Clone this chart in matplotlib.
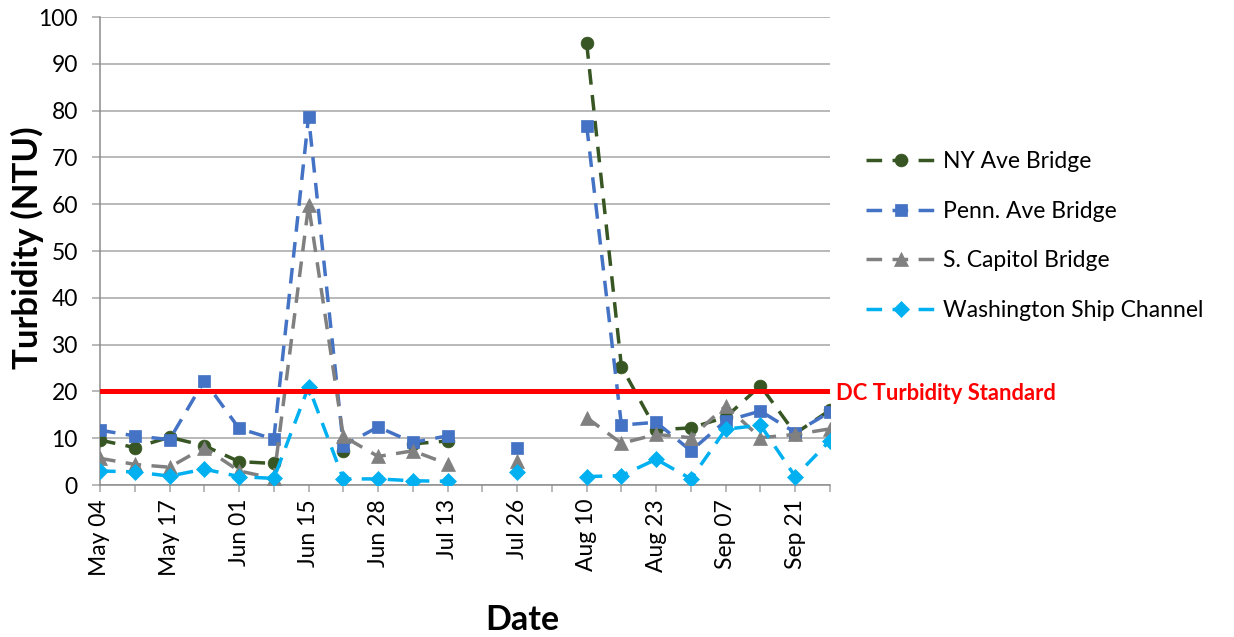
import matplotlib
matplotlib.use('Agg')
import matplotlib.pyplot as plt
import numpy as np

plt.rcParams['font.family'] = ['Lato', 'DejaVu Sans']

dates = ["May 04", "May 10", "May 17", "May 24", "Jun 01", "Jun 08", "Jun 15", "Jun 22",
         "Jun 28", "Jul 06", "Jul 13", "Jul 20", "Jul 26", "Aug 03", "Aug 10", "Aug 17",
         "Aug 23", "Aug 30", "Sep 07", "Sep 14", "Sep 21", "Sep 28"]

ny_ave = [9.6, 8.0, 10.2, 8.4, 5.0, 4.6, None, 7.2, None, 8.8, 9.4, None, None, None,
          94.4, 25.3, 11.8, 12.2, 14.5, 21.2, 11.0, 16.0]
penn_ave = [11.7, 10.5, 9.7, 22.3, 12.1, 9.8, 78.7, 8.4, 12.4, 9.1, 10.5, None, 7.9, None,
            76.8, 12.8, 13.4, 7.3, 13.7, 15.8, 11.2, 15.6]
s_capitol = [5.7, 4.4, 3.8, 8.0, 3.0, 1.4, 59.8, 10.4, 6.1, 7.3, 4.5, None, 5.1, None,
             14.4, 8.9, 10.8, 10.1, 16.9, 10.1, 10.8, 12.0]
ship_channel = [3.0, 2.8, 1.9, 3.4, 1.8, 1.4, 21.0, 1.3, 1.3, 0.9, 0.8, None, 2.8, None,
                1.8, 2.0, 5.5, 1.3, 11.9, 12.8, 1.8, 9.5]

series_names = ["NY Ave Bridge", "Penn. Ave Bridge", "S. Capitol Bridge", "Washington Ship Channel"]
standard = 20

def arr(v):
    return np.array([np.nan if x is None else x for x in v], dtype=float)

fig = plt.figure(figsize=(12.34, 6.37), dpi=100)
ax = fig.add_axes([100/1234, 1-485/637, 730/1234, 468/637])

x = np.arange(len(dates))
styles = [
    ("#375623", "o", 9.2),
    ("#4472C4", "s", 9.2),
    ("#808080", "^", 9.8),
    ("#00B0F0", "D", 8),
]
for vals, name, (c, m, ms) in zip([ny_ave, penn_ave, s_capitol, ship_channel], series_names, styles):
    ax.plot(x, arr(vals), color=c, lw=2.5, ls=(0, (4.5, 3)), marker=m, ms=ms,
            markerfacecolor=c, markeredgecolor=c, markeredgewidth=0.5, label=name, zorder=3)

ax.axhline(standard, color="#FF0000", lw=3.6, zorder=4, solid_capstyle='round')
ax.annotate("DC Turbidity Standard", xy=(x[-1], standard), xytext=(4, -1.5),
            textcoords='offset points', va='center', ha='left', color="#FF0000",
            fontsize=15.8, fontweight='bold', annotation_clip=False)

ax.set_xlim(0, len(dates) - 1)
ax.set_ylim(0, 100)
ax.set_yticks(np.arange(0, 101, 10))
ax.set_xticks(x)
ax.set_xticklabels([d if i % 2 == 0 else "" for i, d in enumerate(dates)], rotation=90)
ax.yaxis.grid(True, color="#A6A6A6", lw=1.1)
ax.set_axisbelow(True)
for s in ['top', 'right']:
    ax.spines[s].set_visible(False)
for s in ['left', 'bottom']:
    ax.spines[s].set_color("#8C8C8C")
    ax.spines[s].set_linewidth(1.1)
ax.tick_params(axis='y', length=6, color="#A6A6A6", width=1.1, labelsize=16.5, pad=10)
ax.tick_params(axis='x', length=5, color="#A6A6A6", width=1.1, labelsize=16.5, pad=5)

fig.text(27/1234, 1-248/637, "Turbidity (NTU)", rotation=90, ha='center', va='center',
         fontsize=25, fontweight='bold')
fig.text(522/1234, 1-620/637, "Date", ha='center', va='center', fontsize=24.5, fontweight='bold')

fig.legend(loc='center left', bbox_to_anchor=(866/1234, 1-236/637), frameon=False,
           fontsize=16.5, handlelength=3.05, borderaxespad=0, borderpad=0,
           labelspacing=1.24, handletextpad=0.3)

fig.savefig("out.png", dpi=100)
